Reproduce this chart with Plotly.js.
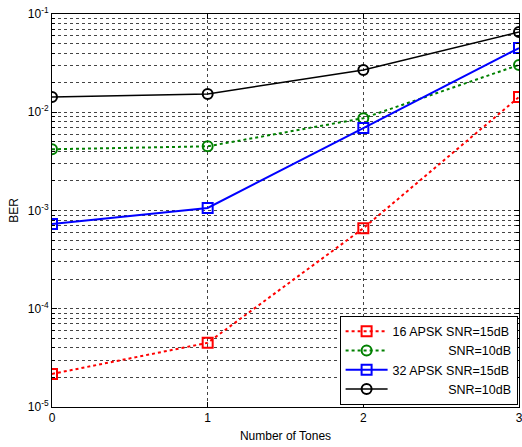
<!DOCTYPE html>
<html>
<head>
<meta charset="utf-8">
<script src="https://cdn.plot.ly/plotly-3.0.1.min.js"></script>
<style>html,body{margin:0;padding:0;background:#fff;}#chart{width:522px;height:447px;}</style>
</head>
<body>
<div id="chart"></div>
<script>
const tones = [0, 1, 2, 3];
const apsk16_snr15 = [2.17e-5, 4.5e-5, 6.6e-4, 0.0143];
const apsk16_snr10 = [4.2e-3, 4.5e-3, 8.7e-3, 0.0303];
const apsk32_snr15 = [7.3e-4, 1.06e-3, 6.9e-3, 0.045];
const apsk32_snr10 = [0.0143, 0.01535, 0.0269, 0.0656];
const names = ['16 APSK SNR=15dB', 'SNR=10dB', '32 APSK SNR=15dB', 'SNR=10dB'];
const xTicks = [0, 1, 2, 3];
const yTickVals = [1e-5, 1e-4, 1e-3, 1e-2, 1e-1];
const yTickText = ['10<sup>-5</sup>', '10<sup>-4</sup>', '10<sup>-3</sup>', '10<sup>-2</sup>', '10<sup>-1</sup>'];

const pad = '\u00a0'.repeat(16);
const FONT = 'Liberation Sans, Arial, sans-serif';

const traces = [
  {x: tones, y: apsk16_snr15, name: names[0], mode: 'lines+markers',
   line: {color: '#ff0000', width: 2, dash: 'dot'},
   marker: {symbol: 'square-open', size: 10, color: '#ff0000', line: {width: 2}}},
  {x: tones, y: apsk16_snr10, name: pad + names[1], mode: 'lines+markers',
   line: {color: '#008000', width: 2, dash: 'dot'},
   marker: {symbol: 'circle-open', size: 10, color: '#008000', line: {width: 2}}},
  {x: tones, y: apsk32_snr15, name: names[2], mode: 'lines+markers',
   line: {color: '#0000ff', width: 2},
   marker: {symbol: 'square-open', size: 10, color: '#0000ff', line: {width: 2}}},
  {x: tones, y: apsk32_snr10, name: pad + names[3], mode: 'lines+markers',
   line: {color: '#000000', width: 1.5},
   marker: {symbol: 'circle-open', size: 10, color: '#000000', line: {width: 2}}}
];

const minorVals = [];
for (let e = -5; e < -1; e++) {
  for (let m = 2; m <= 9; m++) minorVals.push(m * Math.pow(10, e));
}

const gridColor = '#444';
const layout = {
  width: 522, height: 447,
  margin: {l: 52, r: 3, t: 14, b: 40},
  paper_bgcolor: '#fff', plot_bgcolor: '#fff',
  font: {family: FONT, size: 12, color: '#000'},
  showlegend: true,
  legend: {x: 0.997, xanchor: 'right', y: 0.006, yanchor: 'bottom',
           bgcolor: '#fff', bordercolor: '#000', borderwidth: 1, itemwidth: 42,
           font: {family: FONT, size: 12.5, color: '#000'}, tracegroupgap: 0},
  xaxis: {
    range: [0, 3], tickvals: xTicks, ticktext: xTicks.map(String),
    ticklabeloverflow: 'allow',
    showgrid: true, gridcolor: gridColor, griddash: '3px,3px', gridwidth: 1,
    zeroline: false, showline: true, mirror: 'ticks', linecolor: '#000', linewidth: 1,
    ticks: 'inside', ticklen: 5, tickcolor: '#000',
    title: {text: 'Number of Tones', font: {family: FONT, size: 12, color: '#000'}, standoff: 7},
    tickfont: {family: FONT, size: 12, color: '#000'}
  },
  yaxis: {
    type: 'log', range: [-5, -1], tickvals: yTickVals, ticktext: yTickText,
    showgrid: true, gridcolor: gridColor, griddash: '3px,3px', gridwidth: 1,
    zeroline: false, showline: true, mirror: 'ticks', linecolor: '#000', linewidth: 1,
    ticks: 'inside', ticklen: 5, tickcolor: '#000',
    minor: {tickvals: minorVals, showgrid: true, gridcolor: gridColor, griddash: '3px,3px', gridwidth: 1, ticks: 'inside', ticklen: 3, tickcolor: '#000'},
    title: {text: 'BER', font: {family: FONT, size: 12, color: '#000'}, standoff: 6},
    tickfont: {family: FONT, size: 12, color: '#000'}
  }
};

Plotly.newPlot('chart', traces, layout, {displayModeBar: false, staticPlot: true});
</script>
</body>
</html>
